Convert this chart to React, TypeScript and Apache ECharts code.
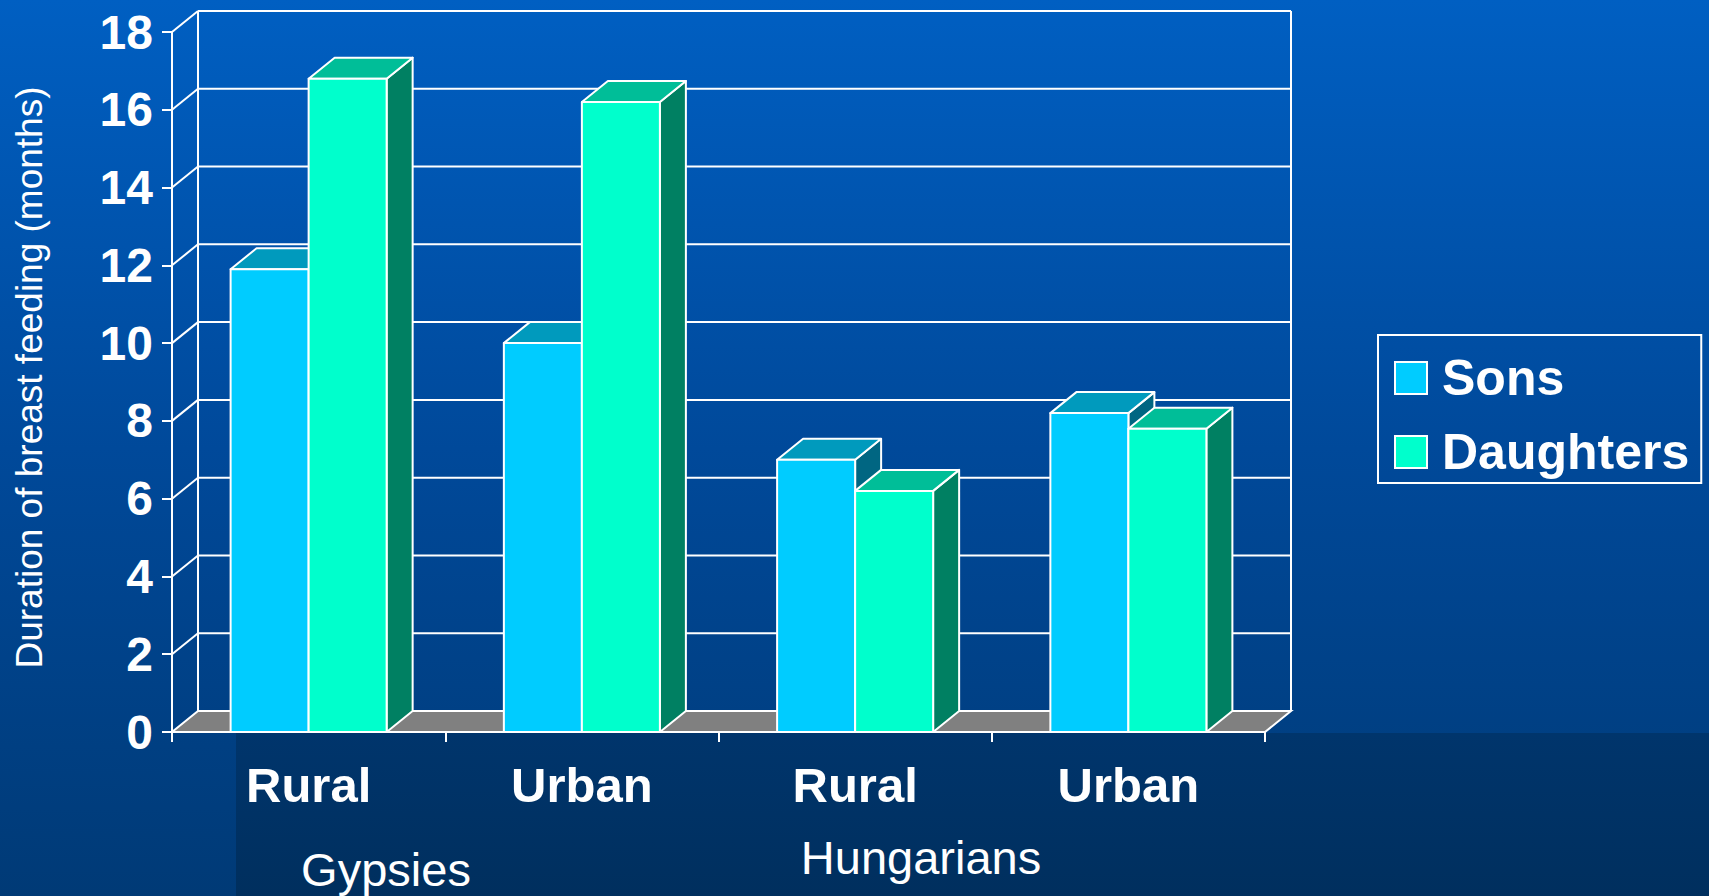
import React, { useEffect, useRef } from "react";
import * as echarts from "echarts";

const categories = ["Rural", "Urban", "Rural", "Urban"];
const groupLabels = ["Gypsies", "Hungarians"];
const seriesNames = ["Sons", "Daughters"];
const sonsValues = [11.9, 10.0, 7.0, 8.2];
const daughtersValues = [16.8, 16.2, 6.2, 7.8];
const yTickValues = [0, 2, 4, 6, 8, 10, 12, 14, 16, 18];

const FONT = "'Liberation Sans', Arial, Helvetica, sans-serif";
const DX = 26;
const DY = -21;
const BAR_RATIO = 0.2855;
const WHITE = "#ffffff";

const sonsColors = { front: "#00CCFF", top: "#009ABD", side: "#006682" };
const daughtersColors = { front: "#00FFCC", top: "#00BE98", side: "#008062" };

function makeBarRender(side: number, colors: { front: string; top: string; side: string }) {
  return (params: any, api: any) => {
    const idx = api.value(0);
    const val = api.value(1);
    const band = api.size([1, 0])[0];
    const w = band * BAR_RATIO;
    const c = api.coord([idx, val]);
    const b = api.coord([idx, 0]);
    const x0 = side < 0 ? c[0] - w : c[0];
    const x1 = x0 + w;
    const yt = c[1];
    const yb = b[1];
    const st = { stroke: WHITE, lineWidth: 2, lineJoin: "round" };
    return {
      type: "group",
      children: [
        {
          type: "polygon",
          shape: { points: [[x1, yt], [x1 + DX, yt + DY], [x1 + DX, yb + DY], [x1, yb]] },
          style: { fill: colors.side, ...st },
        },
        {
          type: "polygon",
          shape: { points: [[x0, yt], [x1, yt], [x1 + DX, yt + DY], [x0 + DX, yt + DY]] },
          style: { fill: colors.top, ...st },
        },
        {
          type: "rect",
          shape: { x: x0, y: yt, width: w, height: yb - yt },
          style: { fill: colors.front, ...st },
        },
      ],
    };
  };
}

function wallRender(params: any, api: any) {
  const cs = params.coordSys;
  const gx = cs.x;
  const gw = cs.width;
  const v = api.value(1);
  const y = api.coord([0, v])[1];
  const y0 = api.coord([0, yTickValues[0]])[1];
  const yMax = api.coord([0, yTickValues[yTickValues.length - 1]])[1];
  const ls = { stroke: WHITE, lineWidth: 2 };
  const children: any[] = [];
  if (v === yTickValues[0]) {
    children.push({
      type: "polygon",
      shape: { points: [[gx, y0], [gx + gw, y0], [gx + gw + DX, y0 + DY], [gx + DX, y0 + DY]] },
      style: { fill: "#808080", ...ls },
    });
    children.push({
      type: "line",
      shape: { x1: gx + DX, y1: y0 + DY, x2: gx + DX, y2: yMax + DY },
      style: ls,
    });
    children.push({
      type: "line",
      shape: { x1: gx + gw + DX, y1: y0 + DY, x2: gx + gw + DX, y2: yMax + DY },
      style: ls,
    });
  } else {
    children.push({
      type: "line",
      shape: { x1: gx + DX, y1: y + DY, x2: gx + gw + DX, y2: y + DY },
      style: ls,
    });
    children.push({
      type: "line",
      shape: { x1: gx, y1: y, x2: gx + DX, y2: y + DY },
      style: ls,
    });
  }
  return { type: "group", children };
}

export default function App() {
  const ref = useRef<HTMLDivElement>(null);

  useEffect(() => {
    if (!ref.current) return;
    const chart = echarts.init(ref.current, undefined, { renderer: "svg" });
    const option: any = {
      animation: false,
      backgroundColor: {
        type: "linear",
        x: 0,
        y: 0,
        x2: 0,
        y2: 1,
        colorStops: [
          { offset: 0, color: "#005FC2" },
          { offset: 0.5, color: "#00499A" },
          { offset: 1, color: "#003A76" },
        ],
      },
      color: [sonsColors.front, daughtersColors.front],
      grid: {
        left: 172,
        right: 444,
        top: 32,
        bottom: 164,
        containLabel: false,
        outerBoundsMode: "none",
      },
      legend: {
        orient: "vertical",
        left: 1378,
        top: 335,
        data: [
          { name: seriesNames[0], icon: "rect", itemStyle: { color: sonsColors.front, borderColor: WHITE, borderWidth: 2 } },
          { name: seriesNames[1], icon: "rect", itemStyle: { color: daughtersColors.front, borderColor: WHITE, borderWidth: 2 } },
        ],
        itemWidth: 32,
        itemHeight: 32,
        itemGap: 18,
        borderColor: WHITE,
        borderWidth: 2,
        padding: [15, 12, 3, 16],
        textStyle: {
          color: WHITE,
          fontSize: 50,
          fontWeight: "bold",
          fontFamily: FONT,
          lineHeight: 56,
          padding: [0, 0, 0, 10],
        },
      },
      xAxis: {
        type: "category",
        data: categories,
        axisLine: { show: true, lineStyle: { color: WHITE, width: 2 } },
        axisTick: { show: true, length: 10, lineStyle: { color: WHITE, width: 2 } },
        axisLabel: {
          color: WHITE,
          fontSize: 49,
          fontWeight: "bold",
          fontFamily: FONT,
          margin: 28,
        },
        splitLine: { show: false },
      },
      yAxis: {
        type: "value",
        min: 0,
        max: 18,
        interval: 2,
        name: "Duration of breast feeding (months)",
        nameLocation: "middle",
        nameGap: 124,
        nameRotate: 90,
        nameTextStyle: { color: WHITE, fontSize: 37, fontFamily: FONT, padding: [0, 0, 0, 9] },
        axisLine: { show: true, lineStyle: { color: WHITE, width: 2 } },
        axisTick: { show: true, length: 10, lineStyle: { color: WHITE, width: 2 } },
        axisLabel: {
          color: WHITE,
          fontSize: 48,
          fontWeight: "bold",
          fontFamily: FONT,
          margin: 19,
        },
        splitLine: { show: false },
      },
      graphic: [
        {
          type: "rect",
          z: -1,
          silent: true,
          shape: { x: 236, y: 733, width: 1473, height: 163 },
          style: {
            fill: {
              type: "linear",
              x: 0,
              y: 0,
              x2: 0,
              y2: 1,
              colorStops: [
                { offset: 0, color: "#00356C" },
                { offset: 1, color: "#002F5E" },
              ],
            },
          },
        },
        {
          type: "text",
          x: 386,
          y: 869,
          style: {
            text: groupLabels[0],
            fill: WHITE,
            font: `normal 47px ${FONT}`,
            textAlign: "center",
            textVerticalAlign: "middle",
          },
        },
        {
          type: "text",
          x: 921,
          y: 857,
          style: {
            text: groupLabels[1],
            fill: WHITE,
            font: `normal 47px ${FONT}`,
            textAlign: "center",
            textVerticalAlign: "middle",
          },
        },
      ],
      series: [
        {
          name: "wall",
          type: "custom",
          z: 1,
          silent: true,
          renderItem: wallRender,
          data: yTickValues.map((v) => [0, v]),
        },
        {
          name: seriesNames[0],
          type: "custom",
          z: 2,
          itemStyle: { color: sonsColors.front },
          renderItem: makeBarRender(-1, sonsColors),
          data: sonsValues.map((v, i) => [i, v]),
        },
        {
          name: seriesNames[1],
          type: "custom",
          z: 3,
          itemStyle: { color: daughtersColors.front },
          renderItem: makeBarRender(1, daughtersColors),
          data: daughtersValues.map((v, i) => [i, v]),
        },
      ],
    };
    chart.setOption(option);
    return () => chart.dispose();
  }, []);

  return (
    <div
      ref={ref}
      style={{ position: "fixed", left: 0, top: 0, width: 1709, height: 896 }}
    />
  );
}
